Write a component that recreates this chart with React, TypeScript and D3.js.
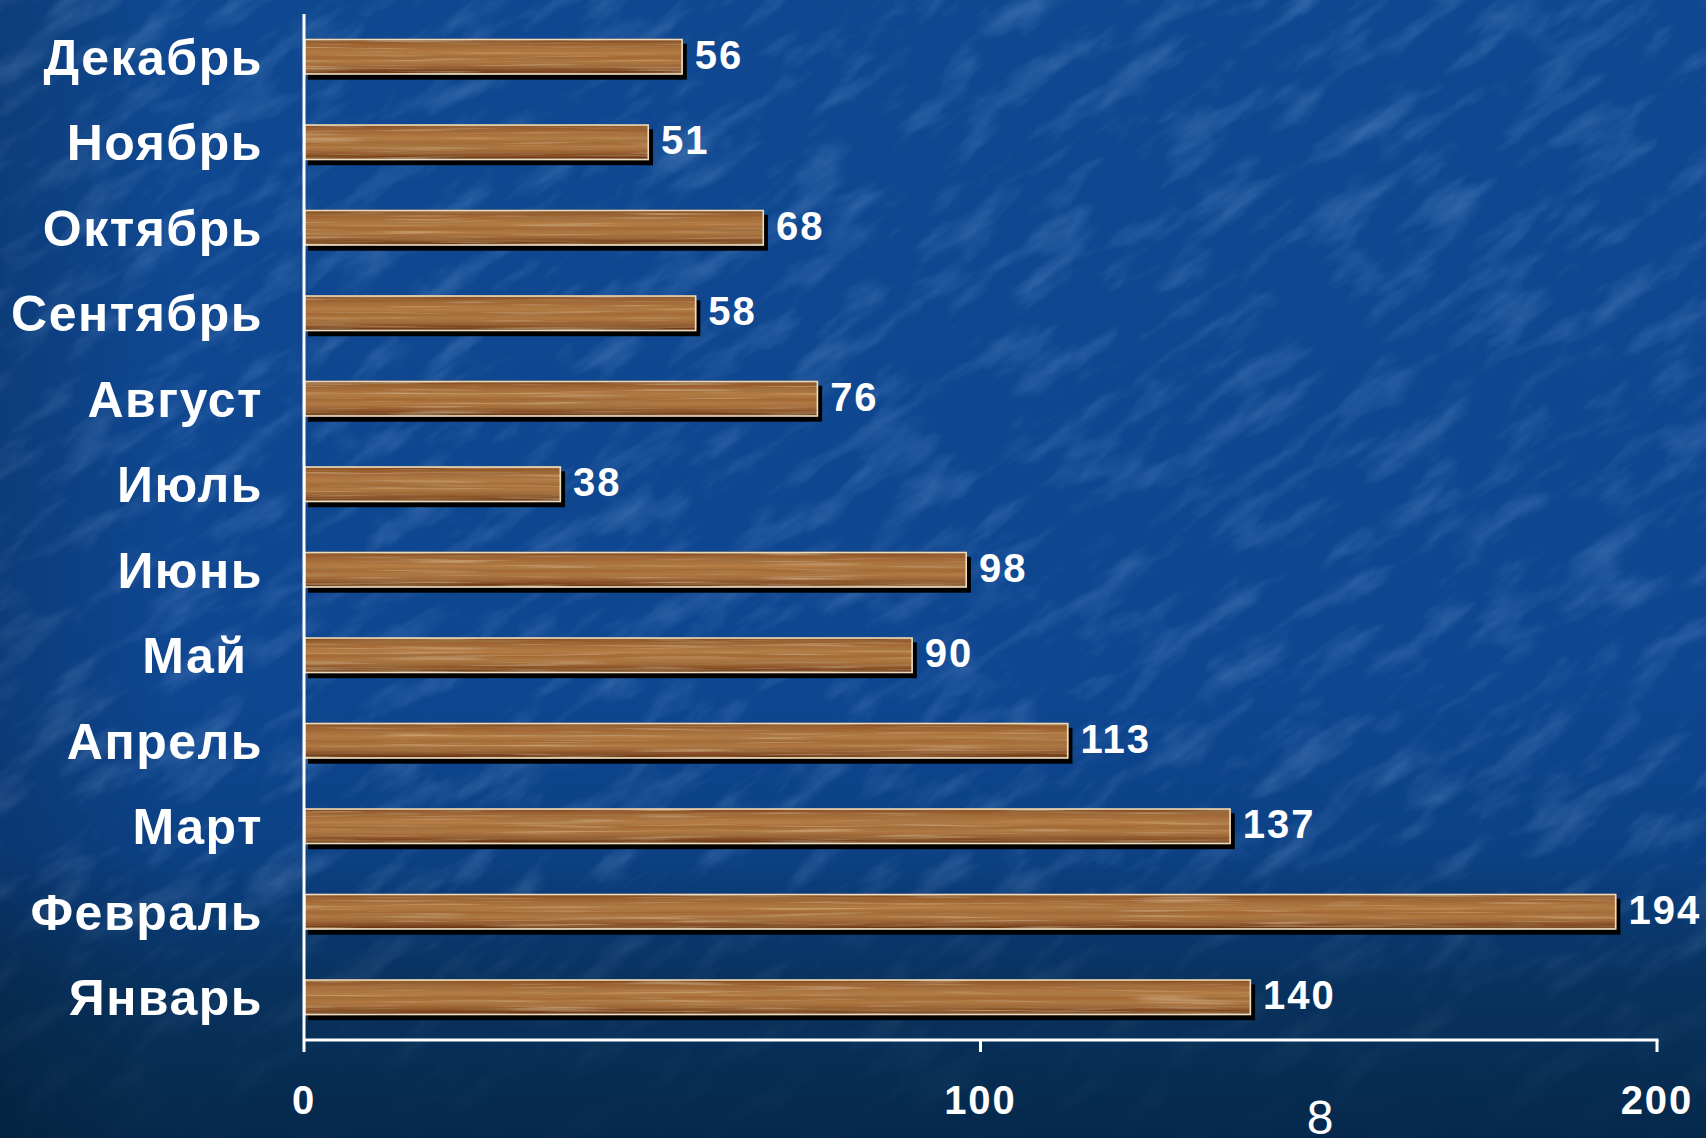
import React from "react";
import * as d3 from "d3";

const months = ["Декабрь", "Ноябрь", "Октябрь", "Сентябрь", "Август", "Июль", "Июнь", "Май ", "Апрель", "Март", "Февраль", "Январь"];
const values = [56, 51, 68, 58, 76, 38, 98, 90, 113, 137, 194, 140];
const xTicks = [0, 100, 200];
const pageNumber = "8";

const W = 1706;
const H = 1138;

export default function App() {
  const x = d3.scaleLinear().domain([0, 200]).range([304, 1657]);
  const y = d3.scaleBand<string>().domain(months).range([14, 1040]).paddingInner(0.58).paddingOuter(0.29);
  const bh = y.bandwidth();
  const axisY = 1040;
  const font = "'Liberation Sans', Arial, sans-serif";

  return (
    <svg width={W} height={H} style={{ position: "absolute", left: 0, top: 0, display: "block" }}>
      <defs>
        <linearGradient id="bg" x1="0" y1="0" x2="0" y2="1">
          <stop offset="0" stopColor="#0f4890" />
          <stop offset="0.6" stopColor="#0e4690" />
          <stop offset="0.8" stopColor="#0b3f80" />
          <stop offset="1" stopColor="#0a3869" />
        </linearGradient>
        <linearGradient id="bgBottom" x1="0" y1="0" x2="0" y2="1">
          <stop offset="0" stopColor="#062a4c" stopOpacity="0" />
          <stop offset="0.75" stopColor="#062a4c" stopOpacity="0.0" />
          <stop offset="0.86" stopColor="#062a4c" stopOpacity="0.55" />
          <stop offset="1" stopColor="#05284a" stopOpacity="0.95" />
        </linearGradient>
        <linearGradient id="bgLeft" x1="0" y1="0" x2="1" y2="0">
          <stop offset="0" stopColor="#000" stopOpacity="0.15" />
          <stop offset="0.1" stopColor="#000" stopOpacity="0" />
        </linearGradient>
        <filter id="bgTex" x="0" y="0" width="100%" height="100%">
          <feTurbulence type="fractalNoise" baseFrequency="0.012 0.035" numOctaves="4" seed="11" result="n" />
          <feColorMatrix in="n" type="matrix" values="0 0 0 0 0.4  0 0 0 0 0.6  0 0 0 0 0.95  1.5 0 0 0 -0.72" />
        </filter>
        <linearGradient id="wood" x1="0" y1="0" x2="0" y2="1">
          <stop offset="0" stopColor="#6a3616" />
          <stop offset="0.1" stopColor="#955b2c" />
          <stop offset="0.24" stopColor="#a66b38" />
          <stop offset="0.4" stopColor="#b67e47" />
          <stop offset="0.52" stopColor="#a36834" />
          <stop offset="0.64" stopColor="#b27a44" />
          <stop offset="0.78" stopColor="#9a6133" />
          <stop offset="0.9" stopColor="#7a411d" />
          <stop offset="1" stopColor="#52280e" />
        </linearGradient>
        <filter id="grain" x="0" y="0" width="100%" height="100%">
          <feTurbulence type="fractalNoise" baseFrequency="0.006 0.35" numOctaves="3" seed="3" result="n" />
          <feColorMatrix in="n" type="matrix" values="0 0 0 0 0.36  0 0 0 0 0.18  0 0 0 0 0.06  1.6 0 0 0 -0.6" result="s" />
          <feComposite in="s" in2="SourceAlpha" operator="in" result="s2" />
          <feTurbulence type="fractalNoise" baseFrequency="0.008 0.4" numOctaves="2" seed="9" result="n2" />
          <feColorMatrix in="n2" type="matrix" values="0 0 0 0 0.8  0 0 0 0 0.58  0 0 0 0 0.32  1.3 0 0 0 -0.72" result="l" />
          <feComposite in="l" in2="SourceAlpha" operator="in" result="l2" />
          <feMerge>
            <feMergeNode in="SourceGraphic" />
            <feMergeNode in="s2" />
            <feMergeNode in="l2" />
          </feMerge>
        </filter>
      </defs>

      <rect x={0} y={0} width={W} height={H} fill="url(#bg)" />
      <g transform={`rotate(-35 ${W / 2} ${H / 2})`} opacity={0.35}>
        <rect x={-500} y={-600} width={W + 1000} height={H + 1200} filter="url(#bgTex)" />
      </g>
      <rect x={0} y={0} width={W} height={H} fill="url(#bgBottom)" />
      <rect x={0} y={0} width={W} height={H} fill="url(#bgLeft)" />

      {/* bars */}
      {months.map((m, i) => {
        const y0 = y(m)!;
        const w = x(values[i]) - x(0);
        return (
          <g key={m}>
            <rect x={x(0) + 4} y={y0 + 5} width={w} height={bh} fill="#000" />
            <rect x={x(0)} y={y0} width={w} height={bh} fill="url(#wood)" filter="url(#grain)" />
            <rect x={x(0) + 0.75} y={y0 + 0.75} width={w - 1.5} height={bh - 1.5} fill="none" stroke="#eadcc0" strokeWidth={1.6} />
          </g>
        );
      })}

      {/* axes */}
      <line x1={x(0)} x2={x(0)} y1={14} y2={axisY + 12} stroke="#fff" strokeWidth={3} />
      <line x1={x(0)} x2={x(200) + 1.5} y1={axisY} y2={axisY} stroke="#fff" strokeWidth={3} />
      {xTicks.slice(1).map((t) => (
        <line key={t} x1={x(t)} x2={x(t)} y1={axisY} y2={axisY + 12} stroke="#fff" strokeWidth={3} />
      ))}

      {/* tick labels */}
      {xTicks.map((t) => (
        <text key={t} x={x(t)} y={axisY + 74} textAnchor="middle" fill="#fff" fontFamily={font} fontWeight="bold" fontSize={40} letterSpacing={2}>
          {t}
        </text>
      ))}

      {/* category labels */}
      {months.map((m) => (
        <text key={m} x={263} y={y(m)! + bh / 2 + 18} textAnchor="end" fill="#fff" fontFamily={font} fontWeight="bold" fontSize={50} letterSpacing={1.5} style={{ whiteSpace: "pre" }}>
          {m}
        </text>
      ))}

      {/* value labels */}
      {months.map((m, i) => (
        <text key={m} x={x(values[i]) + 12} y={y(m)! + bh / 2 + 12} fill="#fff" fontFamily={font} fontWeight="bold" fontSize={40} letterSpacing={2}>
          {values[i]}
        </text>
      ))}

      <text x={1320} y={1134} textAnchor="middle" fill="#fff" fontFamily={font} fontSize={48}>
        {pageNumber}
      </text>
    </svg>
  );
}
